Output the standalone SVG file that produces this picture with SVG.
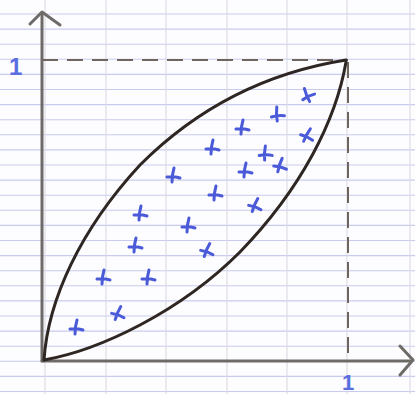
<svg xmlns="http://www.w3.org/2000/svg" xmlns:xlink="http://www.w3.org/1999/xlink" width="415" height="394" viewBox="0 0 415 394">
<defs>
<style>
.hl{stroke:#c9cbee;stroke-width:1.1}
.vl{stroke:#dadae3;stroke-width:1.1}
.axis{stroke:#6e6a68;stroke-width:3;fill:none;stroke-linecap:round;stroke-linejoin:round}
.dash{stroke:#6e665e;stroke-width:2;fill:none;stroke-dasharray:16 9}
.lens{stroke:#2e2622;stroke-width:3;fill:none;stroke-linecap:round}
.mk{stroke:#4a5ad8;stroke-width:3;fill:none;stroke-linecap:round}
.lbl{font-family:"Liberation Sans",sans-serif;fill:#5a6ee0;font-weight:bold}
</style>
<path id="m" class="mk" d="M1,-7 Q-1,0 -1,7 M-6,2 Q1,1 7,3"/>
</defs>
<rect width="415" height="394" fill="#fdfdff"/>
<g id="paper">
<path class="hl" d="M0,14H415M0,29.1H415M0,44.2H415M0,59.3H415M0,74.4H415M0,89.5H415M0,104.6H415M0,119.7H415M0,134.8H415M0,149.9H415M0,165H415M0,180.1H415M0,195.2H415M0,210.3H415M0,225.4H415M0,240.5H415M0,255.6H415M0,270.7H415M0,285.8H415M0,300.9H415M0,316H415M0,331.1H415M0,346.2H415M0,361.3H415M0,376.4H415M0,391.5H415"/>
<path class="vl" d="M45,0V394M106,0V394M166,0V394M227,0V394M287,0V394M347,0V394M410,0V394"/>
</g>
<g id="axes">
<path class="axis" d="M42,14V361"/>
<path class="axis" d="M30,24L42,12L60,25"/>
<path class="axis" d="M42,361H410"/>
<path class="axis" d="M400,346L413,360L400,375"/>
</g>
<g id="guides">
<path class="dash" d="M42,60H348"/>
<path class="dash" d="M348,62V360"/>
</g>
<g id="lens">
<path class="lens" d="M44,360 C48,300 80,230 140,165 C200,105 270,72 346,60"/>
<path class="lens" d="M346,62 C336,120 302,188 240,252 C180,312 100,350 44,360"/>
</g>
<g id="marks">
<use xlink:href="#m" transform="translate(307,95) rotate(-30)"/>
<use xlink:href="#m" transform="translate(277,114) rotate(-10)"/>
<use xlink:href="#m" transform="translate(242,127) rotate(0)"/>
<use xlink:href="#m" transform="translate(212,147) rotate(0)"/>
<use xlink:href="#m" transform="translate(307,135) rotate(20)"/>
<use xlink:href="#m" transform="translate(173,175) rotate(0)"/>
<use xlink:href="#m" transform="translate(265,153) rotate(-5)"/>
<use xlink:href="#m" transform="translate(280,165) rotate(10)"/>
<use xlink:href="#m" transform="translate(245,170) rotate(0)"/>
<use xlink:href="#m" transform="translate(215,193) rotate(0)"/>
<use xlink:href="#m" transform="translate(255,205) rotate(15)"/>
<use xlink:href="#m" transform="translate(140,213) rotate(0)"/>
<use xlink:href="#m" transform="translate(188,225) rotate(0)"/>
<use xlink:href="#m" transform="translate(135,245) rotate(0)"/>
<use xlink:href="#m" transform="translate(207,250) rotate(15)"/>
<use xlink:href="#m" transform="translate(103,277) rotate(0)"/>
<use xlink:href="#m" transform="translate(148,277) rotate(0)"/>
<use xlink:href="#m" transform="translate(118,313) rotate(15)"/>
<use xlink:href="#m" transform="translate(76,327) rotate(0)"/>
</g>
<g id="labels">
<text class="lbl" x="9" y="75" font-size="24">1</text>
<text class="lbl" x="342" y="390" font-size="22">1</text>
</g>
</svg>
